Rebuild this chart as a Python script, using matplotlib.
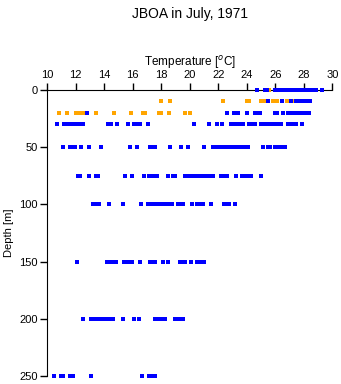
import matplotlib
matplotlib.use("Agg")
import matplotlib.pyplot as plt

plt.rcParams['font.family'] = ['Liberation Sans', 'DejaVu Sans']

# orange series (temperature, depth)
orange_t = [25.58,
            18.0, 18.61, 22.3, 23.99, 24.18, 24.97, 25.11, 25.28, 25.86, 26.0, 26.09, 26.8, 26.98, 27.15,
            10.8, 11.36, 11.99, 12.29, 12.43, 12.57, 13.42, 14.68, 15.89, 16.74, 16.83, 17.86, 18.0,
            18.51, 19.68, 20.01]
orange_d = [0] + [10] * 14 + [20] * 16

# blue series, per depth level
blue_rows = {
    0: [24.7, 25.3, 25.45, 26.0, 26.15, 26.3, 26.45, 26.6, 26.75, 26.9, 27.05, 27.2, 27.35, 27.5,
        27.65, 27.8, 27.95, 28.1, 28.25, 28.4, 28.55, 28.7, 28.85, 29.3],
    10: [25.51, 26.49, 27.08, 27.45, 27.6, 27.78, 27.96, 28.13, 28.3, 28.43],
    20: [12.81, 22.58, 23.1, 23.38, 23.99, 24.57, 24.74, 24.92, 26.0, 26.14, 26.56, 26.91, 27.08,
         27.26, 27.45, 27.64, 27.82, 28.01, 28.2, 28.39],
    30: [10.7, 11.17, 11.45, 11.59, 11.9, 12.18, 12.34, 12.53, 14.26, 14.44, 14.91, 15.66, 16.08,
         16.27, 16.5, 17.09, 20.29, 21.35, 21.88, 22.26, 22.91, 23.1, 23.29, 23.57, 23.75, 24.18,
         24.36, 24.55, 25.02, 25.2, 25.39, 25.63, 25.81, 26.0, 26.19, 26.37, 26.89, 27.08, 27.26,
         27.45, 27.87],
    50: [11.08, 11.59, 11.78, 11.94, 12.34, 12.9, 13.79, 15.8, 16.32, 17.2, 17.44, 17.58, 18.61,
         19.4, 19.87, 20.99, 21.65, 21.84, 22.02, 22.21, 22.4, 22.58, 22.77, 22.96, 23.15, 23.33,
         23.52, 23.71, 23.89, 24.08, 25.16, 25.49, 25.63, 26.0, 26.19, 26.37, 26.7],
    75: [12.15, 12.29, 12.9, 13.42, 13.56, 15.43, 15.94, 16.78, 17.16, 17.44, 17.72, 18.47, 18.8,
         18.99, 19.64, 19.82, 20.06, 20.25, 20.48, 20.67, 20.9, 21.13, 21.32, 21.6, 22.16, 22.3,
         22.58, 23.24, 23.66, 23.85, 24.04, 24.32, 25.02],
    100: [13.18, 13.37, 13.6, 14.3, 15.29, 16.6, 17.06, 17.25, 17.44, 17.63, 17.81, 18.09, 18.37,
          18.56, 18.75, 19.17, 19.36, 19.54, 20.15, 20.53, 20.71, 20.9, 21.51, 22.4, 22.58, 22.77,
          23.19],
    150: [12.11, 14.21, 14.4, 14.68, 14.82, 15.38, 15.57, 15.75, 15.94, 16.5, 17.2, 17.44, 17.58,
          18.09, 18.47, 19.31, 19.5, 19.68, 20.11, 20.48, 20.81, 21.0],
    200: [12.53, 13.09, 13.23, 13.42, 13.7, 13.88, 14.16, 14.3, 14.58, 15.29, 16.08, 16.41, 17.58,
          17.77, 18.05, 18.28, 18.98, 19.22, 19.5],
    250: [10.47, 10.94, 11.12, 11.59, 11.83, 13.04, 16.64, 17.11, 17.3, 17.53],
}

x_ticks = [10, 12, 14, 16, 18, 20, 22, 24, 26, 28, 30]
y_ticks = [0, 50, 100, 150, 200, 250]

blue_t = []
blue_d = []
for d in blue_rows:
    for t in blue_rows[d]:
        blue_t.append(t)
        blue_d.append(d)

fig = plt.figure(figsize=(3.41, 3.84), dpi=100)
ax = fig.add_axes([0.1387, 0.0208, 0.8358, 0.7448])

ax.plot(blue_t, blue_d, 's', color='#0000FF', markersize=2.6, markeredgewidth=0,
        clip_on=False, zorder=4)
ax.plot(orange_t, orange_d, 's', color='#FFA500', markersize=2.6, markeredgewidth=0,
        clip_on=False, zorder=3)

ax.set_xlim(10, 30)
ax.set_ylim(250, 0)
ax.xaxis.set_ticks_position('top')
ax.xaxis.set_label_position('top')
ax.set_xticks(x_ticks)
ax.set_yticks(y_ticks)
ax.tick_params(axis='both', direction='out', length=5, width=1, labelsize=8, pad=2)
ax.spines['right'].set_visible(False)
ax.spines['bottom'].set_visible(False)
ax.set_xlabel('Temperature [$^o$C]', fontsize=8.5, labelpad=3)
ax.set_ylabel('Depth [m]', fontsize=8, labelpad=4)

fig.text(0.557, 0.963, 'JBOA in July, 1971', ha='center', va='center', fontsize=10)

fig.savefig('out.png', dpi=100)
